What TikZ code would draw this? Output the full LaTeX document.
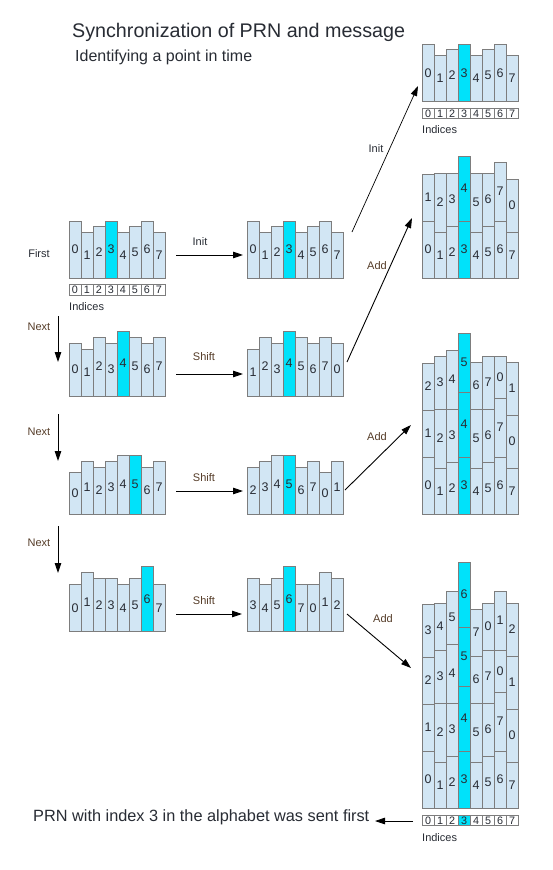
\documentclass[tikz,border=0pt]{standalone}
\usepackage{fontspec}
\setmainfont{Liberation Sans}
\usetikzlibrary{arrows.meta}
\definecolor{barfill}{RGB}{210,230,244}
\definecolor{hl}{RGB}{0,226,250}
\definecolor{edge}{RGB}{125,125,125}
\definecolor{txt}{RGB}{40,44,52}
\definecolor{lbl}{RGB}{85,60,40}
\tikzset{
  barcell/.style={draw=edge, fill=barfill, line width=0.95pt},
  hlcell/.style={draw=edge, fill=hl, line width=0.95pt},
  digit/.style={font=\fontsize{12.5}{12.5}\selectfont, text=txt, inner sep=0pt},
  idxcell/.style={draw=edge, fill=white, line width=0.85pt},
  idxhl/.style={draw=edge, fill=hl, line width=0.85pt},
  idxdigit/.style={font=\fontsize{10.8}{10.8}\selectfont, text=txt, inner sep=0pt},
  conn/.style={-{Triangle[length=10pt,width=6.5pt]}, line width=0.9pt, black},
  lab/.style={font=\fontsize{11}{11}\selectfont, text=txt, inner sep=0pt},
  oplab/.style={font=\fontsize{11}{11}\selectfont, text=lbl, inner sep=0pt},
}
\def\BarH{{57,46,52,57,46,52,57,46, 53,47,59,53,65,59,53,59, 42,53,47,53,59,59,47,53, 47,59,53,53,47,53,65,47}}
% #1 name, #2 x0, #3 bottom, #4 row, #5 shift (0/1), #6 highlight pos
\newcommand\rowblock[6]{%
  \foreach \i in {0,...,7}{%
    \pgfmathtruncatemacro\v{mod(\i+#5*(#4-1),8)}%
    \pgfmathsetmacro\h{\BarH[(#4-1)*8+\v]}%
    \ifnum\i=#6 \def\st{hlcell}\else\def\st{barcell}\fi
    \draw[\st] (#2+12*\i,#3) rectangle ++(12,-\h);
    \node[digit] (#1-\i) at (#2+12*\i+6,#3-\h/2) {\v};
  }}
% #1 name, #2 x0, #3 bottom, #4 number of rows
\newcommand\stackblock[4]{%
  \foreach \i in {0,...,7}{%
    \xdef\cury{#3}%
    \foreach \r in {1,...,#4}{%
      \pgfmathtruncatemacro\v{mod(\i+\r-1,8)}%
      \pgfmathsetmacro\h{\BarH[(\r-1)*8+\v]}%
      \ifnum\i=3 \def\st{hlcell}\else\def\st{barcell}\fi
      \draw[\st] (#2+12*\i,\cury) rectangle ++(12,-\h);
      \node[digit] (#1-\i-\r) at (#2+12*\i+6,\cury-\h/2) {\v};
      \pgfmathsetmacro\ny{\cury-\h}%
      \xdef\cury{\ny}%
    }}}
% #1 name, #2 x0, #3 top, #4 highlight pos
\newcommand\idxrow[4]{%
  \foreach \i in {0,...,7}{%
    \ifnum\i=#4 \def\st{idxhl}\else\def\st{idxcell}\fi
    \draw[\st] (#2+12*\i,#3) rectangle ++(12,10.5);
    \node[idxdigit] (#1-\i) at (#2+12*\i+6,#3+5.5) {\i};
  }}
\begin{document}
\begin{tikzpicture}[x=1pt,y=-1pt]
\useasboundingbox (0,0) rectangle (552,870);
\fill[white] (0,0) rectangle (552,870);
% titles
\node[font=\fontsize{19.7}{20}\selectfont, text=txt, anchor=west, inner sep=0pt] (title) at (72,32) {Synchronization of PRN and message};
\node[font=\fontsize{16}{16}\selectfont, text=txt, anchor=west, inner sep=0pt] (subtitle) at (75,57) {Identifying a point in time};
% left column
\rowblock{L1}{69}{278}{1}{0}{3}
\rowblock{L2}{69}{396}{2}{0}{4}
\rowblock{L3}{69}{514}{3}{0}{5}
\rowblock{L4}{69}{631.5}{4}{0}{6}
\idxrow{LI}{69}{284.5}{-1}
\node[lab, anchor=west] (lind) at (69,307) {Indices};
% middle column
\rowblock{M1}{247}{278}{1}{1}{3}
\rowblock{M2}{247}{396}{2}{1}{3}
\rowblock{M3}{247}{514}{3}{1}{3}
\rowblock{M4}{247}{631.5}{4}{1}{3}
% right column
\stackblock{R1}{422}{101.5}{1}
\idxrow{RIa}{422}{108}{-1}
\node[lab, anchor=west] (rinda) at (422,130) {Indices};
\stackblock{R2}{422}{278}{2}
\stackblock{R3}{422}{514}{3}
\stackblock{R4}{422}{808}{4}
\idxrow{RIb}{422}{815}{3}
\node[lab, anchor=west] (rindb) at (422,838) {Indices};
% side labels
\node[lab] (first) at (39,254) {First};
\node[oplab] (next1) at (39,327) {Next};
\node[oplab] (next2) at (39,432) {Next};
\node[oplab] (next3) at (39,543) {Next};
% arrow end points
\coordinate (n1a) at (58,316); \coordinate (n1b) at (58,362);
\coordinate (n2a) at (58,414); \coordinate (n2b) at (58,461);
\coordinate (n3a) at (58,526); \coordinate (n3b) at (58,573);
\coordinate (h1a) at (176,255); \coordinate (h1b) at (243,255);
\coordinate (h2a) at (176,374); \coordinate (h2b) at (243,374);
\coordinate (h3a) at (176,491); \coordinate (h3b) at (243,491);
\coordinate (h4a) at (176,614); \coordinate (h4b) at (242,614);
\coordinate (d1a) at (352,232); \coordinate (d1b) at (418,86);
\coordinate (d2a) at (347,362); \coordinate (d2b) at (412,218);
\coordinate (d3a) at (345,490); \coordinate (d3b) at (411,425);
\coordinate (d4a) at (347,614); \coordinate (d4b) at (411,668);
\coordinate (fa) at (413,821); \coordinate (fb) at (375,821);
\draw[conn] (n1a) -- (n1b);
\draw[conn] (n2a) -- (n2b);
\draw[conn] (n3a) -- (n3b);
\draw[conn] (h1a) -- (h1b);
\draw[conn] (h2a) -- (h2b);
\draw[conn] (h3a) -- (h3b);
\draw[conn] (h4a) -- (h4b);
\draw[conn, line width=0.7pt] (d1a) -- (d1b);
\draw[conn] (d2a) -- (d2b);
\draw[conn] (d3a) -- (d3b);
\draw[conn] (d4a) -- (d4b);
\draw[conn, line width=0.8pt] (fa) -- (fb);
% operation labels
\node[lab] (init1) at (200,242) {Init};
\node[oplab] (shift1) at (204,357) {Shift};
\node[oplab] (shift2) at (204,478) {Shift};
\node[oplab] (shift3) at (204,601) {Shift};
\node[lab] (init2) at (376,149) {Init};
\node[oplab] (add1) at (377,266) {Add};
\node[oplab] (add2) at (377,437) {Add};
\node[oplab] (add3) at (383,619) {Add};
% conclusion
\node[font=\fontsize{16.3}{16.3}\selectfont, text=txt, anchor=west, inner sep=0pt] (concl) at (33,817) {PRN with index 3 in the alphabet was sent first};
\end{tikzpicture}
\end{document}
